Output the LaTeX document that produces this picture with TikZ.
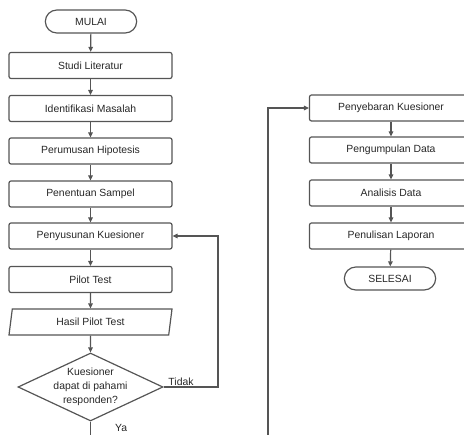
\documentclass[tikz,border=0pt]{standalone}
\usepackage{fontspec}
\setmainfont{Liberation Sans}
\usepackage{tikz}
\usetikzlibrary{shapes.geometric, shapes.misc, arrows.meta, positioning}
\usepackage{xcolor}
\definecolor{garis}{HTML}{555555}
\definecolor{teks}{HTML}{262626}

\begin{document}
\begin{tikzpicture}[x=1pt, y=-1pt,
        box/.style={rectangle, draw=garis, line width=1.2pt, rounded corners=2pt, minimum height=26pt, minimum width=163pt, align=center, text=teks, font=\fontsize{10.4}{12}\selectfont},
        term/.style={rounded rectangle, draw=garis, line width=1.2pt, minimum height=23pt, minimum width=98pt, text=teks, font=\fontsize{10.4}{12}\selectfont},
        io/.style={trapezium, trapezium left angle=77, trapezium right angle=103, trapezium stretches body, draw=garis, line width=1.2pt, minimum height=26pt, minimum width=163pt, text=teks, font=\fontsize{10.4}{12}\selectfont},
        cek/.style={diamond, draw=garis, line width=1.2pt, minimum width=145pt, minimum height=68pt, inner sep=0pt},
        line/.style={draw=garis, line width=1.2pt, -{Triangle[length=5pt, width=4.5pt]}},
        lbl/.style={text=teks, inner sep=1pt, font=\fontsize{10.4}{12}\selectfont}
    ]
        \clip (0,0) rectangle (464,435);
        % Kolom kiri
        \node [term] (mulai) at (91, 21.5) {MULAI};
        \node [box] (studi) at (90.5, 65.5) {Studi Literatur};
        \node [box] (ident) at (90.5, 108.5) {Identifikasi Masalah};
        \node [box] (rumus) at (90.5, 151) {Perumusan Hipotesis};
        \node [box] (sampel) at (90.5, 194) {Penentuan Sampel};
        \node [box] (susun) at (90.5, 236) {Penyusunan Kuesioner};
        \node [box] (pilot) at (90.5, 279.5) {Pilot Test};
        \node [io] (hasil) at (90.5, 322) {Hasil Pilot Test};
        \node [cek, label={[lbl, align=center, font=\fontsize{10.4}{14}\selectfont]center:Kuesioner\\dapat di pahami\\responden?}] (cek) at (90.5, 387) {};

        % Kolom kanan
        \node [box] (sebar) at (391, 108) {Penyebaran Kuesioner};
        \node [box] (kumpul) at (391, 150) {Pengumpulan Data};
        \node [box] (analisis) at (391, 193) {Analisis Data};
        \node [box] (tulis) at (391, 236) {Penulisan Laporan};
        \node [term] (selesai) at (390, 278.5) {SELESAI};

        \coordinate (balik) at (218, 236);
        \coordinate (lompat) at (268, 455);

        % Panah
        \draw [line] (mulai) -- (studi);
        \draw [line] (studi) -- (ident);
        \draw [line] (ident) -- (rumus);
        \draw [line] (rumus) -- (sampel);
        \draw [line] (sampel) -- (susun);
        \draw [line] (susun) -- (pilot);
        \draw [line] (pilot) -- (hasil);
        \draw [line] (hasil) -- (cek);
        \draw [line] (cek.east) -| node[pos=0.16, above=0pt, lbl] {Tidak} (balik) -- (susun.east);
        \draw [line] (cek.south) |- node[pos=0.09, right=23pt, lbl] {Ya} (lompat) |- (sebar.west);
        \draw [line] (sebar) -- (kumpul);
        \draw [line] (kumpul) -- (analisis);
        \draw [line] (analisis) -- (tulis);
        \draw [line] (tulis) -- (selesai);
    \end{tikzpicture}
\end{document}
